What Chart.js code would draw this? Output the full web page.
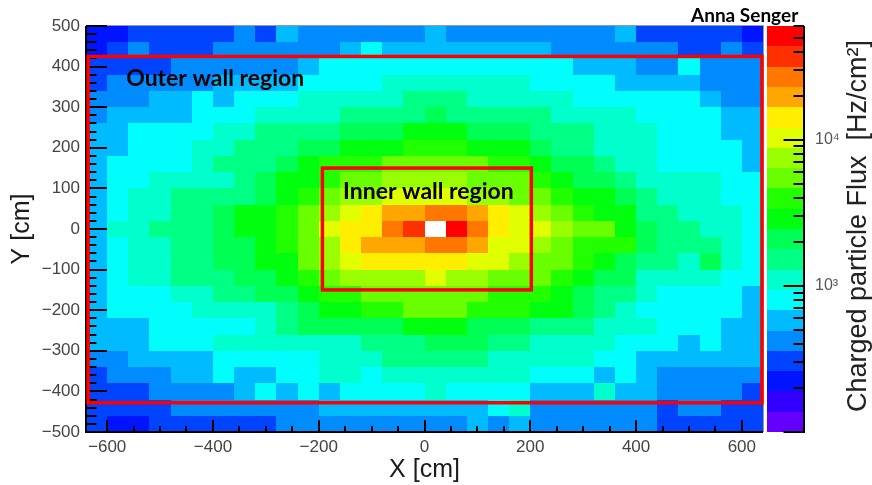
<!DOCTYPE html>
<html>
<head>
<meta charset="utf-8">
<script src="https://cdn.jsdelivr.net/npm/chart.js@4/dist/chart.umd.min.js"></script>
<style>
  html, body { margin: 0; padding: 0; background: #fff; }
</style>
</head>
<body>
<canvas id="fluxChart" width="872" height="485"></canvas>
<script>
// ── Charged particle flux map (X–Y), ROOT "colz" style heatmap ─────────────

// bin centres, cm (40 cm bins)
const xBins = [-620, -580, -540, -500, -460, -420, -380, -340, -300, -260, -220, -180, -140, -100, -60, -20,
               20, 60, 100, 140, 180, 220, 260, 300, 340, 380, 420, 460, 500, 540, 580, 620];
const yBins = [480, 440, 400, 360, 320, 280, 240, 200, 160, 120, 80, 40, 0,
               -40, -80, -120, -160, -200, -240, -280, -320, -360, -400, -440, -480];

// flux in Hz/cm², one row per yBins entry (top row first)
const flux = [
  [220,220,310,310,310,310,310,420,310,580, 420,420,420,420,420,420,580,420,420,420,420,420,420,420, 420,580,310,310,310,310,310,220],
  [220,310,420,310,310,310,420,420,420,420, 420,420,580,800,580,580,580,580,580,580,580,580,420,420, 420,420,420,420,310,310,420,310],
  [310,310,310,310,420,420,420,420,420,420, 580,800,800,800,800,800,800,800,800,800,800,800,800,580, 580,580,420,420,800,420,420,420],
  [310,420,420,420,420,420,580,580,580,580, 800,800,800,800,1100,1100,1100,1100,1100,1100,1100,800,800,800, 800,580,580,580,580,420,420,420],
  [420,420,420,580,580,800,580,800,800,800, 1100,1100,1100,1100,1100,1500,1500,1500,1100,1100,1100,1100,1100,800, 800,800,800,800,800,580,420,420],
  [420,580,580,580,580,800,800,800,1100,1100, 1100,1100,1500,1500,1500,1500,2100,1500,1500,1500,1500,1500,1100,1100, 1100,1100,800,800,800,800,580,580],
  [580,580,800,800,800,800,1100,1100,1500,1500, 1500,1500,2100,2100,2100,2900,2900,2900,2100,2100,2100,1500,1500,1500, 1100,1100,1100,800,800,800,580,580],
  [580,580,800,800,800,1100,1100,1500,1500,1500, 2100,2100,2900,2900,2900,4000,4000,4000,2900,2900,2900,2100,1500,1500, 1100,1100,1100,800,800,800,800,580],
  [580,800,800,800,800,1100,1500,1500,1500,2100, 2900,4000,4000,4000,5400,5400,5400,5400,5400,4000,4000,2900,2100,2100, 1500,1100,1100,800,800,800,800,580],
  [580,800,800,1100,1100,1100,1100,1500,2100,2900, 2900,4000,5400,5400,7500,7500,7500,7500,5400,5400,5400,4000,2900,2100, 2100,1500,1100,1100,1100,1100,800,800],
  [580,800,1100,1100,1500,1500,1500,1500,2100,2900, 4000,5400,7500,7500,10000,10000,10000,10000,7500,7500,5400,5400,4000,2900, 2900,2100,1500,1100,1100,1100,800,800],
  [580,800,1100,1100,1500,1500,2100,2900,2900,4000, 5400,7500,10000,14000,20000,20000,27000,27000,20000,14000,10000,7500,5400,4000, 2900,2900,1500,1500,1100,1100,1100,800],
  [580,1100,1100,1500,1500,1500,2100,2900,2900,4000, 5400,10000,14000,14000,27000,37000,70000,51000,27000,14000,10000,10000,7500,5400, 5400,2900,2100,1500,1500,1100,1100,800],
  [580,800,1100,1100,1500,1500,2100,2100,2900,4000, 5400,7500,14000,20000,20000,20000,27000,27000,20000,10000,10000,7500,5400,4000, 4000,4000,2100,1500,1500,1500,1100,800],
  [580,800,1100,1100,1500,1500,2100,2100,2900,2900, 5400,7500,10000,14000,14000,14000,14000,14000,10000,10000,7500,5400,5400,4000, 2900,2100,1500,1500,1100,2100,1100,800],
  [580,800,1100,1100,1500,1500,1500,2100,2100,2900, 4000,5400,7500,7500,7500,7500,10000,7500,7500,5400,5400,5400,4000,2900, 2100,2100,1100,1100,1100,1100,800,800],
  [580,800,800,800,1100,1100,1500,1500,2100,2100, 2900,4000,4000,5400,5400,5400,5400,5400,5400,4000,4000,4000,2900,2100, 1500,1500,1100,800,800,800,800,580],
  [580,800,800,800,800,1100,1100,1100,1100,1500, 2100,2900,2900,4000,4000,5400,5400,5400,4000,4000,4000,2900,2900,2100, 1500,1100,800,800,800,800,800,580],
  [580,580,580,800,800,800,800,800,1100,1500, 2100,2100,2100,2100,2100,2900,2900,2900,2100,2100,2100,1500,1500,1500, 1100,1100,1100,800,800,800,580,580],
  [580,580,580,800,800,800,1100,1100,1100,1100, 1100,1100,1100,1500,1500,1500,2100,2100,2100,1500,1500,1100,1100,1100, 1100,800,800,800,580,800,580,580],
  [420,420,580,580,580,580,800,800,800,800, 800,1100,1100,1100,1500,1500,1500,1500,1500,1100,1100,1100,1100,1100, 800,800,580,580,580,580,580,580],
  [310,420,420,420,580,580,800,580,580,800, 800,1100,1100,800,1100,1100,1100,1100,1100,1100,1100,800,800,800, 580,800,580,420,420,420,420,420],
  [310,310,310,420,420,420,420,580,800,580, 800,580,800,800,800,800,1100,800,800,800,800,580,580,580, 1100,580,580,420,420,420,420,310],
  [310,310,310,310,420,420,420,420,420,420, 420,580,580,580,580,580,580,580,580,800,1100,420,420,420, 420,420,420,310,420,420,310,310],
  [310,220,220,310,310,310,310,310,310,420, 420,420,420,420,420,420,420,420,580,420,580,420,420,420, 420,420,420,310,310,310,310,310]
];

// axis ticks
const xTickLabels = [-600, -400, -200, 0, 200, 400, 600];
const yTickLabels = [-500, -400, -300, -200, -100, 0, 100, 200, 300, 400, 500];
const zTickValues = [100, 200, 300, 400, 500, 600, 700, 800, 900,
                     1000, 2000, 3000, 4000, 5000, 6000, 7000, 8000, 9000,
                     10000, 20000, 30000, 40000, 50000, 60000];
const zTickLabels = { 1000: '10\u00B3', 10000: '10\u2074' };

// colour scale range (log) and number of contours
const zMin = 100;
const zMax = 60000;
const nLevels = 20;

// drawn regions (cm): [xLo, xHi, yLo, yHi]
const outerRegion = [-636, 638, -428, 425];
const innerRegion = [-193, 202, -150, 150];
const regionLabels = [
  { text: 'Outer wall region', x: -564, y: 352 },
  { text: 'Inner wall region', x: -154, y: 75 }
];

const SANS = "'Liberation Sans', Arial, Helvetica, sans-serif";
const LABEL_FONT = "'Lato', 'Open Sans', sans-serif";

// ROOT pretty palette (HLS, hue 280 → 0, 50 colours) sampled for nLevels contours
function rootColor(level) {
  const idx = Math.floor((level + 0.99) * 50 / nLevels);
  const hue = 280 - (idx + 1) * 5.6;
  return `hsl(${hue}, 100%, 50%)`;
}

function levelOf(v) {
  const t = (Math.log10(v) - Math.log10(zMin)) / (Math.log10(zMax) - Math.log10(zMin));
  return Math.floor(t * nLevels);
}

const cells = [];
yBins.forEach((yc, r) => {
  xBins.forEach((xc, c) => cells.push({ x: xc, y: yc, v: flux[r][c] }));
});

// tick positions: minor every 50 cm on x, every 20 cm on y
const xTicks = [];
for (let v = -600; v <= 600; v += 50) xTicks.push(v);
const yTicks = [];
for (let v = -500; v <= 500; v += 20) yTicks.push(v);

const fmt = v => String(v).replace('-', '\u2212');

function line(ctx, x0, y0, x1, y1) {
  ctx.beginPath();
  ctx.moveTo(x0, y0);
  ctx.lineTo(x1, y1);
  ctx.stroke();
}

const heatmapPlugin = {
  id: 'heatmap',
  beforeDatasetsDraw(chart) {
    const { ctx, scales: { x, y } } = chart;
    const hw = (xBins[1] - xBins[0]) / 2;
    const hh = (yBins[0] - yBins[1]) / 2;
    ctx.save();
    chart.data.datasets[0].data.forEach(p => {
      const lvl = levelOf(p.v);
      if (lvl < 0 || lvl >= nLevels) return;   // above max: left blank, as ROOT does
      const x0 = Math.round(x.getPixelForValue(p.x - hw));
      const x1 = Math.round(x.getPixelForValue(p.x + hw));
      const y0 = Math.round(y.getPixelForValue(p.y + hh));
      const y1 = Math.round(y.getPixelForValue(p.y - hh));
      ctx.fillStyle = rootColor(lvl);
      ctx.fillRect(x0, y0, x1 - x0, y1 - y0);
    });
    ctx.restore();
  },
  afterDraw(chart) {
    const { ctx, chartArea: a, scales: { x, y, z } } = chart;
    ctx.save();

    // frame: thin grey top/right, black axes left/bottom
    ctx.strokeStyle = '#9a9a9a';
    ctx.lineWidth = 1;
    line(ctx, a.left, a.top - 0.5, a.right + 0.5, a.top - 0.5);
    line(ctx, a.right + 0.5, a.top - 0.5, a.right + 0.5, a.bottom);

    ctx.strokeStyle = '#000';
    ctx.lineWidth = 2;
    line(ctx, a.left, a.top, a.left, a.bottom + 1);
    line(ctx, a.left - 1, a.bottom, a.right, a.bottom);

    // inward ticks (ROOT style)
    x.ticks.forEach(t => {
      const px = Math.round(x.getPixelForValue(t.value));
      const len = t.value % 200 === 0 ? 12 : 6;
      line(ctx, px, a.bottom, px, a.bottom - len);
    });
    y.ticks.forEach(t => {
      const py = Math.round(y.getPixelForValue(t.value));
      const len = t.value % 100 === 0 ? 21 : 10.5;
      line(ctx, a.left, py, a.left + len, py);
    });

    // colour bar
    const cbL = a.right + 4, cbR = a.right + 40;
    const lmin = Math.log10(zMin), step = (Math.log10(zMax) - lmin) / nLevels;
    for (let j = 0; j < nLevels; j++) {
      const yLo = Math.round(z.getPixelForValue(Math.pow(10, lmin + j * step)));
      const yHi = Math.round(z.getPixelForValue(Math.pow(10, lmin + (j + 1) * step)));
      ctx.fillStyle = rootColor(j);
      ctx.fillRect(cbL, yHi, cbR - cbL, yLo - yHi);
    }
    ctx.strokeStyle = '#000';
    ctx.lineWidth = 2;
    line(ctx, cbR + 1, z.top, cbR + 1, z.bottom + 1);
    z.ticks.forEach(t => {
      const py = Math.round(z.getPixelForValue(t.value));
      const major = Math.log10(t.value) % 1 === 0;
      line(ctx, cbR + 1, py, cbR + 1 - (major ? 20.5 : 10.5), py);
    });

    // region boxes
    ctx.strokeStyle = '#ff0000';
    ctx.lineWidth = 3.5;
    [outerRegion, innerRegion].forEach(([x0, x1, y0, y1]) => {
      const px0 = x.getPixelForValue(x0), px1 = x.getPixelForValue(x1);
      const py0 = y.getPixelForValue(y1), py1 = y.getPixelForValue(y0);
      ctx.strokeRect(px0, py0, px1 - px0, py1 - py0);
    });

    // region labels
    ctx.fillStyle = '#000';
    ctx.font = `bold 23px ${LABEL_FONT}`;
    ctx.textAlign = 'left';
    ctx.textBaseline = 'alphabetic';
    regionLabels.forEach(l => {
      ctx.fillText(l.text, x.getPixelForValue(l.x), y.getPixelForValue(l.y));
    });

    // author tag
    ctx.font = `bold 19px ${LABEL_FONT}`;
    ctx.fillText('Anna Senger', 691, 21.5);

    // colour bar title, reading upwards
    ctx.translate(866, (a.top + a.bottom) / 2 - 3);
    ctx.rotate(-Math.PI / 2);
    ctx.textAlign = 'center';
    ctx.fillStyle = '#222';
    ctx.font = `27px ${SANS}`;
    ctx.fillText('Charged particle Flux  [Hz/cm\u00B2]', 0, 0);

    ctx.restore();
  }
};

Chart.defaults.font.family = SANS;

new Chart(document.getElementById('fluxChart'), {
  type: 'scatter',
  data: {
    datasets: [{ label: 'flux', data: cells, pointRadius: 0, pointHoverRadius: 0 }]
  },
  options: {
    responsive: false,
    animation: false,
    events: [],
    layout: { padding: { top: 26, left: 0, right: 0, bottom: 0 } },
    plugins: { legend: { display: false }, tooltip: { enabled: false } },
    scales: {
      x: {
        type: 'linear',
        min: -640,
        max: 640,
        grid: { display: false, drawTicks: false },
        border: { display: false },
        afterBuildTicks: s => { s.ticks = xTicks.map(value => ({ value })); },
        ticks: {
          autoSkip: false,
          maxRotation: 0,
          padding: 5,
          color: '#444',
          font: { size: 17 },
          callback: v => xTickLabels.includes(v) ? fmt(v) : ''
        },
        title: {
          display: true,
          text: 'X [cm]',
          color: '#1a1a1a',
          font: { size: 25 },
          padding: { top: 0, bottom: 0 }
        },
        afterFit: s => { s.height = 53; }
      },
      y: {
        type: 'linear',
        min: -500,
        max: 500,
        grid: { display: false, drawTicks: false },
        border: { display: false },
        afterBuildTicks: s => { s.ticks = yTicks.map(value => ({ value })); },
        ticks: {
          autoSkip: false,
          padding: 6,
          color: '#444',
          font: { size: 17 },
          callback: v => yTickLabels.includes(v) ? fmt(v) : ''
        },
        title: {
          display: true,
          text: 'Y [cm]',
          color: '#1a1a1a',
          font: { size: 25 },
          padding: { top: 7, bottom: 0 }
        },
        afterFit: s => { s.width = 86; }
      },
      z: {
        type: 'logarithmic',
        position: 'right',
        min: zMin,
        max: zMax,
        grid: { display: false, drawTicks: true, tickLength: 48 },
        border: { display: false },
        afterBuildTicks: s => { s.ticks = zTickValues.map(value => ({ value })); },
        ticks: {
          autoSkip: false,
          padding: 4,
          color: '#555',
          font: { size: 16 },
          callback: v => zTickLabels[v] || ''
        },
        afterFit: s => { s.width = 109; }
      }
    }
  },
  plugins: [heatmapPlugin]
});
</script>
</body>
</html>
